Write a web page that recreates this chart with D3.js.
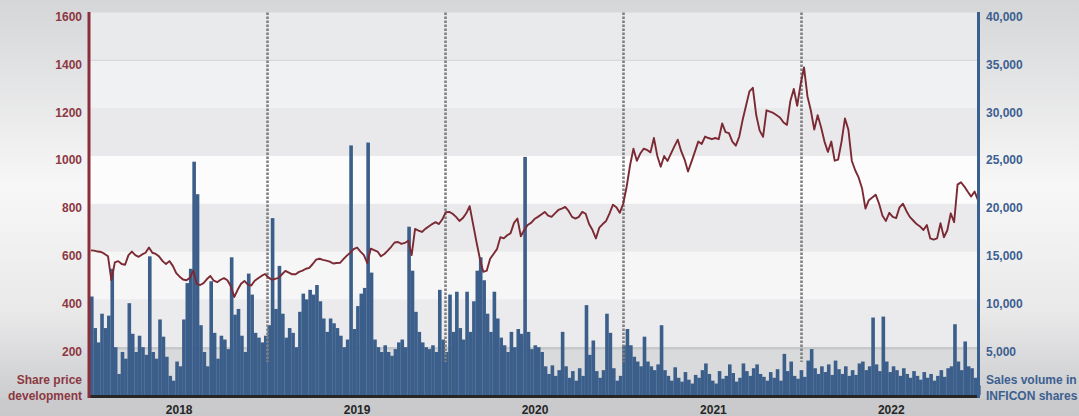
<!DOCTYPE html>
<html>
<head>
<meta charset="utf-8">
<script src="https://cdn.jsdelivr.net/npm/d3@7"></script>
<style>
  body { margin: 0; background: #e4e4e5; }
  text { font-family: Arial, "Liberation Sans", sans-serif; font-weight: bold; font-size: 12px; }
</style>
</head>
<body>
<div id="chart"></div>
<script>
// Chart data (weekly readings, first week starting 2017-07-03)
var firstWeek = "2017-07-03";

var sharePrice = [
  605, 604, 600, 598, 590, 580, 480, 555, 560, 548, 545, 585, 600, 585, 578, 588, 595, 617, 595, 590,
  579, 560, 548, 560, 540, 510, 495, 483, 480, 490, 520, 465, 460, 468, 485, 498, 478, 472, 482, 489,
  480, 455, 410, 440, 465, 477, 462, 458, 478, 488, 498, 506, 492, 482, 486, 490, 505, 519, 512, 505,
  505, 515, 520, 528, 532, 548, 566, 570, 565, 562, 558, 550, 552, 553, 568, 583, 595, 610, 617, 600,
  585, 552, 612, 606, 600, 580, 590, 604, 620, 638, 640, 632, 636, 645, 585, 695, 688, 682, 695, 705,
  715, 723, 715, 735, 765, 766, 758, 745, 728, 740, 760, 790, 715, 640, 570, 515, 520, 570, 590, 610,
  660, 655, 668, 677, 720, 738, 664, 690, 711, 720, 736, 745, 755, 766, 750, 745, 760, 774, 780, 787,
  770, 745, 738, 745, 766, 758, 715, 690, 655, 700, 715, 728, 760, 796, 785, 762, 800, 870, 960, 1030,
  980, 1010, 1030, 1025, 1015, 1075, 1000, 955, 1000, 979, 1010, 1040, 1068, 1020, 985, 935, 975, 1017, 1060, 1050,
  1081, 1075, 1070, 1075, 1070, 1136, 1100, 1095, 1060, 1043, 1080, 1150, 1210, 1270, 1285, 1170, 1106, 1080, 1191, 1185,
  1180, 1170, 1160, 1140, 1130, 1230, 1280, 1210, 1300, 1370, 1250, 1190, 1110, 1170, 1120, 1060, 1017, 1060, 980, 985,
  1060, 1157, 1110, 980, 940, 910, 865, 780, 815, 826, 838, 800, 750, 728, 762, 745, 740, 785, 800, 770,
  745, 730, 715, 705, 690, 711, 655, 650, 655, 719, 660, 689, 760, 723, 880, 890, 872, 850, 830, 851,
  815
];

var salesVolume = [
  10300, 7000, 5500, 8500, 7000, 8300, 13200, 5000, 2200, 4500, 3800, 9600, 6400, 4500, 6200, 5000, 4200, 14500, 4500, 3800,
  7900, 6100, 4000, 2000, 1500, 3500, 3000, 7900, 11700, 13200, 24400, 21000, 7300, 4500, 3000, 11900, 6500, 3800, 6200, 5800,
  4800, 14400, 8400, 9000, 6200, 4500, 12700, 10500, 6500, 6000, 5500, 6200, 7300, 18500, 9000, 13500, 8500, 6000, 7000, 6500,
  5000, 8700, 10600, 10000, 11000, 10500, 11500, 9800, 8000, 6600, 8000, 7500, 7000, 6200, 5000, 5800, 26100, 6900, 9300, 10600,
  11200, 26400, 12800, 5800, 5000, 4500, 5200, 4500, 4100, 4800, 5500, 5800, 5000, 17600, 13000, 8700, 6600, 5500, 5000, 4800,
  5200, 4500, 11000, 5800, 4500, 10500, 6600, 10800, 7000, 5800, 10800, 6600, 9800, 13000, 14400, 12000, 8500, 6600, 10800, 8000,
  6000, 5200, 4500, 6600, 5000, 6900, 6400, 24900, 6600, 4800, 5200, 5000, 4500, 3000, 2200, 3100, 2000, 2600, 6600, 3000,
  1800, 2500, 1500, 2800, 2000, 9400, 4200, 5700, 2500, 1800, 2600, 8500, 6500, 2800, 1500, 2000, 5200, 6900, 5200, 4000,
  3500, 3000, 6100, 3500, 3000, 2600, 3200, 7300, 2600, 2000, 1500, 2900, 1800, 1400, 2400, 1600, 1200, 2100, 1800, 2600,
  3300, 2200, 1500, 1200, 2500, 1700, 2000, 3200, 2300, 1400, 1800, 3300, 2500, 2000, 2800, 3200, 2200, 1900, 1500, 2400,
  1800, 2700, 1500, 4300, 2500, 3500, 2000, 1700, 2600, 1900, 3600, 4800, 2800, 2200, 3000, 2400, 3200, 2100, 3600, 2700,
  2200, 3000, 2000, 2600, 2100, 3300, 3500, 2600, 3000, 8100, 3200, 2500, 8200, 3500, 2400, 3000, 2600, 2000, 2800, 2200,
  1800, 2500, 2000, 1600, 2400, 1800, 2200, 1500, 2000, 2600, 1900, 2800, 3000, 7400, 3500, 2600, 5600, 3000, 2800, 1800,
  1000
];

var priceTicks = [200, 400, 600, 800, 1000, 1200, 1400, 1600];
var volumeTicks = [5000, 10000, 15000, 20000, 25000, 30000, 35000, 40000];
var yearLabels = [2018, 2019, 2020, 2021, 2022];
var periodStarts = [2018, 2019, 2020, 2021];   // dotted separators on 1 July
var leftTitle = ["Share price", "development"];
var rightTitle = ["Sales volume in", "INFICON shares"];

// SVG Information
var svgWidth = 1079;
var svgHeight = 416;
var plotLeft = 89, plotRight = 979, plotTop = 12.5, plotBottom = 395;

var redText = "#8c3843";
var blueText = "#3c6090";
var labelFont = "Arial, 'Liberation Sans', sans-serif";

var svg = d3.select("#chart")
  .append("svg")
  .attr("width", svgWidth)
  .attr("height", svgHeight);

var defs = svg.append("defs");
var bg = defs.append("linearGradient")
  .attr("id", "bg")
  .attr("x1", 0).attr("y1", 0).attr("x2", 0).attr("y2", 1);
bg.append("stop").attr("offset", "0").attr("stop-color", "#d5d6d8");
bg.append("stop").attr("offset", "0.45").attr("stop-color", "#f7f7f7");
bg.append("stop").attr("offset", "0.75").attr("stop-color", "#e9e9ea");
bg.append("stop").attr("offset", "1").attr("stop-color", "#c6c7c9");

svg.append("rect")
  .attr("width", svgWidth)
  .attr("height", svgHeight)
  .attr("fill", "url(#bg)");

// Scales
var weeks = d3.timeMonday.range(d3.timeParse("%Y-%m-%d")(firstWeek), new Date(2022, 6, 1))
  .slice(0, sharePrice.length);

var xScale = d3.scaleTime()
  .domain([new Date(2017, 6, 1), new Date(2022, 6, 1)])
  .range([plotLeft, plotRight]);

var yPrice = d3.scaleLinear()
  .domain([0, 1600])
  .range([plotBottom, plotTop]);

var yVolume = d3.scaleLinear()
  .domain([0, 40000])
  .range([plotBottom, plotTop]);

// Background bands
var bandColors = ["#d9dadc", "#ebebed", "#f6f6f6", "#eaeaec", "#fcfcfc", "#e9e9eb", "#f0f1f2", "#e9eaec"];
var bandEdges = [0].concat(priceTicks);

svg.append("g").selectAll("rect")
  .data(d3.range(bandEdges.length - 1))
  .enter()
  .append("rect")
  .attr("x", plotLeft)
  .attr("width", plotRight - plotLeft)
  .attr("y", i => yPrice(bandEdges[i + 1]))
  .attr("height", i => yPrice(bandEdges[i]) - yPrice(bandEdges[i + 1]))
  .attr("fill", i => bandColors[i]);

// grid lines at 1400 and the heavier one at 200
svg.append("line")
  .attr("x1", plotLeft).attr("x2", plotRight)
  .attr("y1", yPrice(1400)).attr("y2", yPrice(1400))
  .attr("stroke", "#d2d3d5").attr("stroke-width", 1);

svg.append("line")
  .attr("x1", plotLeft).attr("x2", plotRight)
  .attr("y1", yPrice(200) + 1).attr("y2", yPrice(200) + 1)
  .attr("stroke", "#c7c8ca").attr("stroke-width", 2.5);

// bottom axis strip
svg.append("rect")
  .attr("x", 0).attr("y", plotBottom + 3)
  .attr("width", svgWidth).attr("height", svgHeight - plotBottom - 3)
  .attr("fill", "#c9cacc").attr("opacity", 0.75);

// Volume bars
svg.append("g").selectAll("rect")
  .data(weeks)
  .enter()
  .append("rect")
  .attr("x", d => xScale(d))
  .attr("width", d => Math.max(0.5, xScale(d3.timeDay.offset(d, 7)) - xScale(d) + 0.2))
  .attr("y", (d, i) => yVolume(salesVolume[i]))
  .attr("height", (d, i) => plotBottom - yVolume(salesVolume[i]))
  .attr("fill", "#3b5f8a");

// Dotted separators (drawn over the bars, stopping above the base mass)
svg.append("g").selectAll("line")
  .data(periodStarts)
  .enter()
  .append("line")
  .attr("x1", d => Math.round(xScale(new Date(d, 6, 1))) + 0.5)
  .attr("x2", d => Math.round(xScale(new Date(d, 6, 1))) + 0.5)
  .attr("y1", plotTop)
  .attr("y2", 362)
  .attr("stroke", "#7f8081")
  .attr("stroke-width", 2.6)
  .attr("stroke-dasharray", "2.5,1.5");

// Share price line
var priceLine = d3.line()
  .x((d, i) => xScale(d3.timeDay.offset(weeks[i], 2)))
  .y(d => yPrice(d));

svg.append("path")
  .datum(sharePrice)
  .attr("d", priceLine)
  .attr("fill", "none")
  .attr("stroke", "#7b2a34")
  .attr("stroke-width", 1.9)
  .attr("stroke-linejoin", "round");

// Baseline
svg.append("line")
  .attr("x1", plotLeft).attr("x2", plotRight)
  .attr("y1", plotBottom + 1.5).attr("y2", plotBottom + 1.5)
  .attr("stroke", "#262626").attr("stroke-width", 3);

// Axes
var leftAxis = d3.axisLeft(yPrice).tickValues(priceTicks).tickSize(0).tickPadding(7)
  .tickFormat(d3.format("d"));
var rightAxis = d3.axisRight(yVolume).tickValues(volumeTicks).tickSize(0).tickPadding(7)
  .tickFormat(d3.format(","));

var gl = svg.append("g")
  .attr("transform", `translate(${plotLeft}, 0)`)
  .call(leftAxis);
gl.select(".domain").remove();
gl.selectAll("text").attr("dy", "0.66em").attr("fill", redText)
  .style("font-size", "12px").style("font-family", labelFont);

var gr = svg.append("g")
  .attr("transform", `translate(${plotRight}, 0)`)
  .call(rightAxis);
gr.select(".domain").remove();
gr.selectAll("text").attr("dy", "0.66em").attr("fill", blueText)
  .style("font-size", "12px").style("font-family", labelFont);

// axis lines
svg.append("line")
  .attr("x1", plotLeft).attr("x2", plotLeft)
  .attr("y1", plotTop - 0.5).attr("y2", plotBottom + 3)
  .attr("stroke", "#8a2f3a").attr("stroke-width", 3);

svg.append("line")
  .attr("x1", plotRight - 0.5).attr("x2", plotRight - 0.5)
  .attr("y1", plotTop - 0.5).attr("y2", plotBottom + 3)
  .attr("stroke", "#3a6090").attr("stroke-width", 3);

// Year labels
var bottomAxis = d3.axisBottom(xScale)
  .tickValues(yearLabels.map(y => new Date(y, 0, 1)))
  .tickFormat(d3.timeFormat("%Y"))
  .tickSize(0)
  .tickPadding(7);

var gb = svg.append("g")
  .attr("transform", `translate(0, ${plotBottom + 3})`)
  .call(bottomAxis);
gb.select(".domain").remove();
gb.selectAll("text").attr("fill", "#262626")
  .style("font-size", "12px").style("font-family", labelFont);

// Axis titles
svg.append("text")
  .attr("x", 82)
  .attr("text-anchor", "end")
  .attr("fill", redText)
  .selectAll("tspan")
  .data(leftTitle)
  .enter()
  .append("tspan")
  .attr("x", 82)
  .attr("y", (d, i) => 383.5 + i * 16.5)
  .text(d => d);

svg.append("text")
  .attr("x", 986)
  .attr("fill", blueText)
  .selectAll("tspan")
  .data(rightTitle)
  .enter()
  .append("tspan")
  .attr("x", 986)
  .attr("y", (d, i) => 383.5 + i * 16.5)
  .text(d => d);
</script>
</body>
</html>
